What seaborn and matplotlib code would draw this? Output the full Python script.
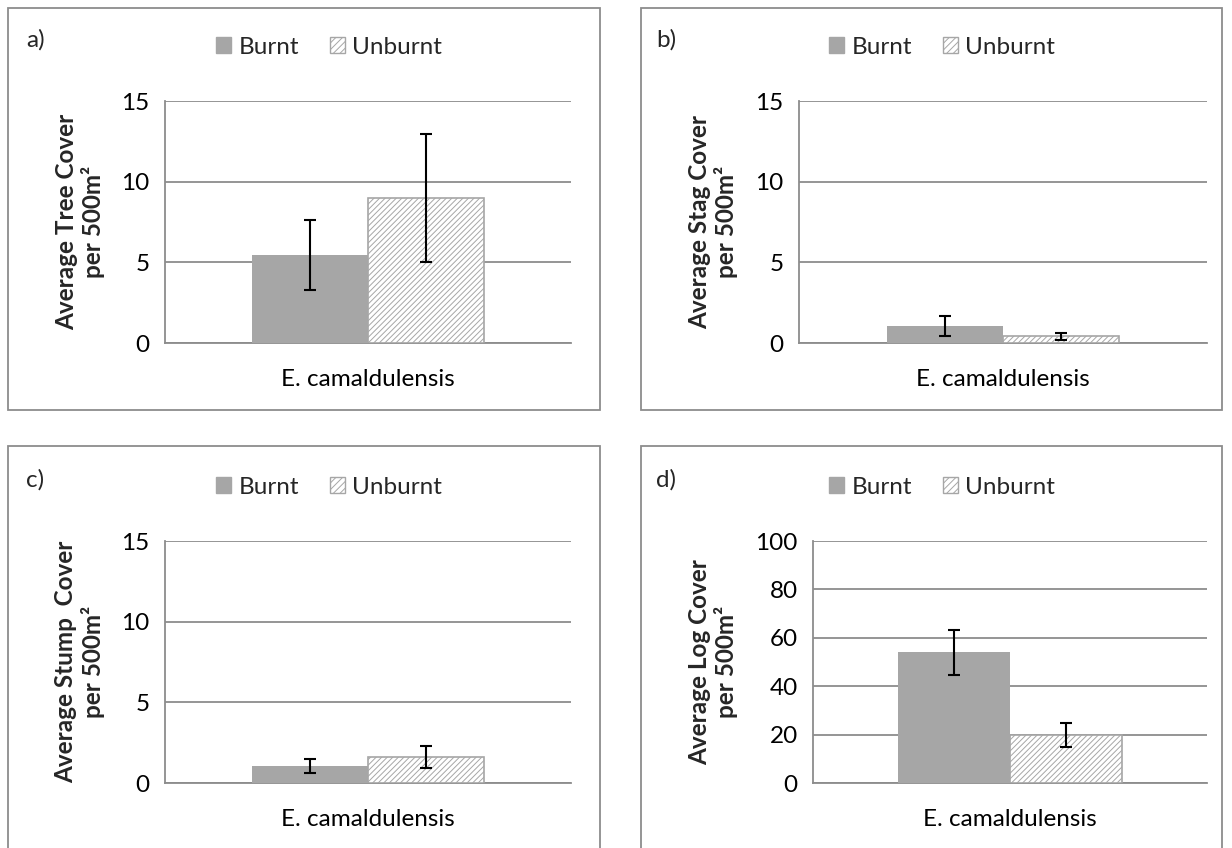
import matplotlib
matplotlib.use("Agg")
import matplotlib.pyplot as plt
import seaborn as sns
import pandas as pd
from matplotlib.patches import Patch, Rectangle

# ---------------- data ----------------
categories = ["E. camaldulensis"]
treatments = ["Burnt", "Unburnt"]
panel_letters = ["a)", "b)", "c)", "d)"]
y_labels = [
    "Average Tree Cover\nper 500m²",
    "Average Stag Cover\nper 500m²",
    "Average Stump  Cover\nper 500m²",
    "Average Log Cover\nper 500m²",
]
tree_means = [5.45, 9.0]
tree_err = [2.15, 3.97]
stag_means = [1.05, 0.42]
stag_err = [0.6, 0.22]
stump_means = [1.05, 1.6]
stump_err = [0.45, 0.68]
log_means = [54.0, 20.0]
log_err = [9.3, 5.0]
y_max = [15, 15, 15, 100]
y_step = [5, 5, 5, 20]

all_means = [tree_means, stag_means, stump_means, log_means]
all_errs = [tree_err, stag_err, stump_err, log_err]

# ---------------- style ----------------
sns.set_theme(style="white")
plt.rcParams["font.family"] = ["Lato", "DejaVu Sans"]
plt.rcParams["hatch.linewidth"] = 0.7
plt.rcParams["hatch.color"] = "#A0A0A0"

W, H = 1232, 848
fig = plt.figure(figsize=(W / 100, H / 100), dpi=100)
fig.patch.set_facecolor("white")

GRID = "#8C8C8C"
BURNT = "#A6A6A6"
FS = 17.5

# pixel layout: (axes left, axes right, axes top(y=max), axes bottom(y=0))
axes_px = [
    (165, 571, 101, 343),
    (799, 1207, 101, 343),
    (165, 571, 541, 783),
    (813, 1207, 541, 783),
]
box_px = [
    (8, 600, 8, 410),
    (641, 1222, 8, 410),
    (8, 600, 446, 860),
    (641, 1222, 446, 860),
]
legend_px = [(329, 47), (942, 47), (329, 487), (942, 487)]
letter_px = [(26, 40), (656, 40), (26, 480), (656, 480)]
ylabel_x = [-0.148, -0.15, -0.149, -0.19]

for i in range(4):
    bx0, bx1, by0, by1 = box_px[i]
    fig.patches.append(Rectangle((bx0 / W, 1 - by1 / H), (bx1 - bx0) / W, (by1 - by0) / H,
                                 transform=fig.transFigure, fill=False,
                                 edgecolor="#8C8C8C", linewidth=1.3, zorder=0))

    l, r, t, b = axes_px[i]
    ax = fig.add_axes([l / W, 1 - b / H, (r - l) / W, (b - t) / H])

    df = pd.DataFrame({
        "species": categories * len(treatments),
        "treatment": treatments,
        "value": all_means[i],
        "err": all_errs[i],
    })
    sns.barplot(data=df, x="species", y="value", hue="treatment",
                hue_order=treatments,
                palette={"Burnt": BURNT, "Unburnt": "white"},
                width=0.57, errorbar=None, saturation=1, legend=False, ax=ax,
                zorder=3)

    bars = [p for p in ax.patches if isinstance(p, Rectangle)]
    for p, tr in zip(bars, treatments):
        if tr == "Unburnt":
            p.set_hatch("//////")
            p.set_edgecolor("#A6A6A6")
            p.set_linewidth(1.2)
        else:
            p.set_edgecolor(BURNT)
            p.set_linewidth(0)
    xs = [p.get_x() + p.get_width() / 2 for p in bars]
    ax.errorbar(xs, df["value"], yerr=df["err"], fmt="none", ecolor="black",
                elinewidth=1.5, capsize=4.5, capthick=1.5, zorder=5)

    ax.set_xlim(-0.5, 0.5)
    ax.set_ylim(0, y_max[i])
    ax.set_yticks(list(range(0, y_max[i] + 1, y_step[i])))
    ax.yaxis.grid(True, color=GRID, linewidth=1.3, zorder=0)
    ax.xaxis.grid(False)
    ax.set_axisbelow(True)
    for s in ["top", "right"]:
        ax.spines[s].set_visible(False)
    for s in ["left", "bottom"]:
        ax.spines[s].set_color(GRID)
        ax.spines[s].set_linewidth(1.3)
    ax.set_xticks([-0.5, 0.5], minor=True)
    ax.tick_params(axis="x", which="major", length=0, pad=19, labelsize=FS, colors="black")
    ax.tick_params(axis="x", which="minor", direction="out", length=6, width=1.3, color=GRID)
    ax.tick_params(axis="y", which="major", direction="out", length=6, width=1.3,
                   color=GRID, labelsize=FS, labelcolor="black", pad=5)
    ax.set_xlabel("")
    ax.set_ylabel(y_labels[i], fontsize=FS, fontweight="bold", linespacing=1.15)
    ax.yaxis.set_label_coords(ylabel_x[i], 0.5)

    handles = [Patch(facecolor=BURNT, edgecolor=BURNT, label="Burnt"),
               Patch(facecolor="white", edgecolor="#A6A6A6", hatch="/////", label="Unburnt")]
    lx, ly = legend_px[i]
    fig.legend(handles=handles, loc="center", bbox_to_anchor=(lx / W, 1 - ly / H),
               ncol=2, frameon=False, fontsize=FS, handlelength=0.62, handleheight=0.62,
               handletextpad=0.3, columnspacing=1.25, borderpad=0, borderaxespad=0)

    px, py = letter_px[i]
    fig.text(px / W, 1 - py / H, panel_letters[i], fontsize=FS, va="center", ha="left")

fig.savefig("out.png", dpi=100, facecolor="white")
